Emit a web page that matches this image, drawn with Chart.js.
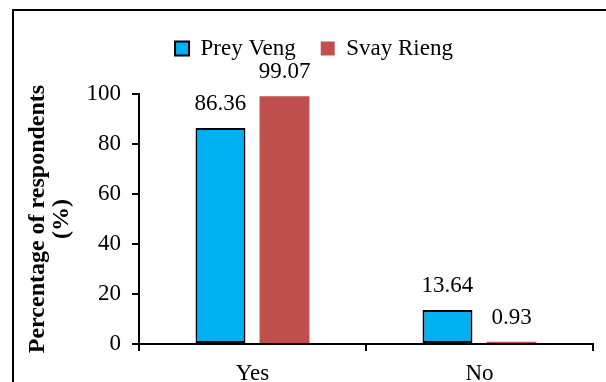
<!DOCTYPE html>
<html>
<head>
<meta charset="utf-8">
<script src="https://cdn.jsdelivr.net/npm/chart.js@4.4.1/dist/chart.umd.min.js"></script>
<style>
  html, body { margin: 0; padding: 0; background: #fff; overflow: hidden; }
  #wrap { position: relative; width: 606px; height: 382px; }
  #frame { position: absolute; left: 12px; top: 9px; width: 700px; height: 500px;
           border: 2px solid #000; box-sizing: border-box; pointer-events: none; }
  canvas { position: absolute; left: 0; top: 0; }
</style>
</head>
<body>
<div id="wrap">
  <canvas id="c" width="606" height="382"></canvas>
  <div id="frame"></div>
</div>
<script>
// Survey answers by province
const categories = ['Yes', 'No'];
const preyVeng = [86.36, 13.64];
const svayRieng = [99.07, 0.93];
const yTicks = [0, 20, 40, 60, 80, 100];

const SERIF = '"Liberation Serif", "Times New Roman", serif';

// Writes each bar's value just above it
const valueLabels = {
  id: 'valueLabels',
  afterDatasetsDraw(chart) {
    const ctx = chart.ctx;
    ctx.save();
    ctx.font = '23px ' + SERIF;
    ctx.fillStyle = '#000';
    ctx.textAlign = 'center';
    ctx.textBaseline = 'middle';
    chart.data.datasets.forEach((ds, di) => {
      chart.getDatasetMeta(di).data.forEach((bar, i) => {
        ctx.fillText(ds.data[i].toFixed(2), bar.x, bar.y - 24);
      });
    });
    ctx.restore();
  }
};

// Leaves room under the legend for the value labels
const legendGap = {
  id: 'legendGap',
  beforeLayout(chart, args, opts) {
    const lg = chart.legend;
    if (lg && !lg._gapPatched) {
      const fit = lg.fit;
      lg.fit = function () {
        fit.call(this);
        this.height += opts.extra || 0;
      };
      lg._gapPatched = true;
    }
  }
};

new Chart(document.getElementById('c'), {
  type: 'bar',
  data: {
    labels: categories,
    datasets: [
      {
        label: 'Prey Veng',
        data: preyVeng,
        backgroundColor: '#00B0F0',
        borderColor: '#000',
        borderWidth: 2,
        borderSkipped: false
      },
      {
        label: 'Svay Rieng',
        data: svayRieng,
        backgroundColor: '#C0504D',
        borderWidth: 0
      }
    ]
  },
  options: {
    responsive: false,
    animation: false,
    layout: { padding: { left: 35, right: 13, top: 12, bottom: 0 } },
    datasets: { bar: { categoryPercentage: 0.564, barPercentage: 0.78 } },
    plugins: {
      legendGap: { extra: 24 },
      legend: {
        display: true,
        position: 'top',
        labels: {
          font: { family: SERIF, size: 23 },
          color: '#000',
          boxWidth: 14,
          boxHeight: 14,
          padding: 25
        }
      },
      tooltip: { enabled: false }
    },
    scales: {
      x: {
        afterFit(s) { s.height = 38; },
        grid: { drawOnChartArea: false, drawTicks: true, tickLength: 7, color: '#000', lineWidth: 2 },
        border: { color: '#000', width: 2 },
        ticks: { font: { family: SERIF, size: 23 }, color: '#000', padding: 9 }
      },
      y: {
        min: 0,
        max: 100,
        afterFit(s) { s.width = 104; },
        afterBuildTicks(s) { s.ticks = yTicks.map(v => ({ value: v })); },
        grid: { drawOnChartArea: false, drawTicks: true, tickLength: 7, color: '#000', lineWidth: 2 },
        border: { color: '#000', width: 2 },
        ticks: { font: { family: SERIF, size: 23 }, color: '#000', padding: 11 },
        title: {
          display: true,
          text: ['Percentage of respondents', '(%)'],
          font: { family: SERIF, size: 24, weight: 'bold', lineHeight: 1.0 },
          color: '#000',
          padding: { top: -9, bottom: 0 }
        }
      }
    }
  },
  plugins: [valueLabels, legendGap]
});
</script>
</body>
</html>
